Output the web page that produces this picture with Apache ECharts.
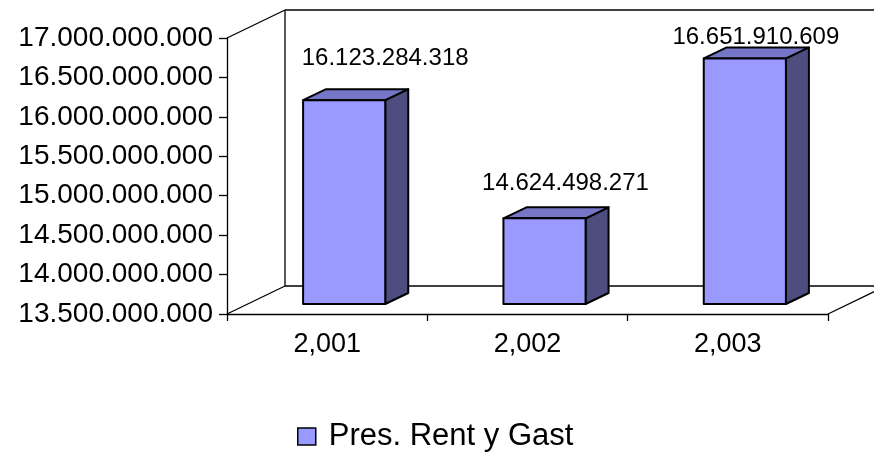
<!DOCTYPE html>
<html>
<head>
<meta charset="utf-8">
<script src="https://cdn.jsdelivr.net/npm/echarts@6/dist/echarts.min.js"></script>
<style>
  html, body { margin: 0; padding: 0; background: #ffffff; }
  #chart { width: 874px; height: 453px; }
</style>
</head>
<body>
<div id="chart"></div>
<script>
// ---- data ----
const categories = ['2,001', '2,002', '2,003'];
const seriesName = 'Pres. Rent y Gast';
const values = [16123284318, 14624498271, 16651910609];
const yMin = 13500000000;
const yMax = 17000000000;
const yStep = 500000000;

// ---- style helpers ----
const FONT = "'Liberation Sans', Arial, sans-serif";
const FRONT = '#9999FF', TOP = '#7676C8', SIDE = '#4D4D80';
const WALL_D = [58, -28];       // depth of walls
const BAR_OFF = 17;             // bar front face shift right
const BAR_D = [23, -11];        // bar depth
const LABEL_DX = [41, 21, 11];  // label shift from bar front centre
const LABEL_GAP = [42, 35, 21]; // label centre above bar front top

function fmt(v) {
  return String(Math.round(v)).replace(/\B(?=(\d{3})+(?!\d))/g, '.');
}

const chart = echarts.init(document.getElementById('chart'), null, { renderer: 'canvas' });

const option = {
  backgroundColor: '#ffffff',
  animation: false,
  grid: { left: 227, right: 46, top: 38, bottom: 139, containLabel: false },
  legend: {
    data: [{ name: seriesName, icon: 'rect' }],
    left: 297,
    top: 421,
    padding: 0,
    itemWidth: 18,
    itemHeight: 17,
    itemStyle: { color: FRONT, borderColor: '#000', borderWidth: 1.5 },
    textStyle: { fontFamily: FONT, fontSize: 31, color: '#000', padding: [0, 0, 0, 8] }
  },
  xAxis: {
    type: 'category',
    data: categories,
    boundaryGap: true,
    axisLine: { show: true, lineStyle: { color: '#000', width: 1.3 } },
    axisTick: { show: true, length: 7, lineStyle: { color: '#000', width: 1.3 } },
    axisLabel: { color: '#000', fontFamily: FONT, fontSize: 27, margin: 17 },
    splitLine: { show: false }
  },
  yAxis: {
    type: 'value',
    min: yMin,
    max: yMax,
    interval: yStep,
    axisLine: { show: true, lineStyle: { color: '#000', width: 1.3 } },
    axisTick: { show: true, length: 8, lineStyle: { color: '#000', width: 1.3 } },
    axisLabel: { color: '#000', fontFamily: FONT, fontSize: 28, margin: 14, formatter: fmt },
    splitLine: { show: false }
  },
  series: [
    {
      type: 'custom',
      name: 'walls',
      silent: true,
      z: 1,
      data: [[0, yMin]],
      renderItem: function (params, api) {
        const band = api.size([1, 0])[0];
        const b0 = api.coord([0, yMin]);
        const b2 = api.coord([categories.length - 1, yMin]);
        const t0 = api.coord([0, yMax]);
        const x0 = b0[0] - band / 2, x1 = b2[0] + band / 2;
        const yb = b0[1], yt = t0[1];
        const dx = WALL_D[0], dy = WALL_D[1];
        const st = { stroke: '#000', lineWidth: 1.3, fill: null };
        const seg = (a, b, c, d) => ({ type: 'line', shape: { x1: a, y1: b, x2: c, y2: d }, style: st });
        return {
          type: 'group',
          children: [
            seg(x0 + dx, yt + dy, x0 + dx, yb + dy),
            seg(x0, yt, x0 + dx, yt + dy),
            seg(x0, yb, x0 + dx, yb + dy),
            seg(x0 + dx, yt + dy, x1 + dx, yt + dy),
            seg(x0 + dx, yb + dy, x1 + dx, yb + dy),
            seg(x1, yb, x1 + dx, yb + dy),
            seg(x1 + dx, yt + dy, x1 + dx, yb + dy)
          ]
        };
      }
    },
    {
      type: 'custom',
      name: seriesName,
      z: 2,
      itemStyle: { color: FRONT, borderColor: '#000', borderWidth: 1.5 },
      data: values.map((v, i) => [i, v]),
      renderItem: function (params, api) {
        const i = api.value(0);
        const v = api.value(1);
        const band = api.size([1, 0])[0];
        const c = api.coord([i, v]);
        const base = api.coord([i, yMin]);
        const w = band * 0.41;
        const fx = c[0] + BAR_OFF - w / 2;
        const top = c[1] - 7;
        const bot = base[1] - 10;
        const dx = BAR_D[0], dy = BAR_D[1];
        const edge = { stroke: '#000', lineWidth: 2, lineJoin: 'round' };
        return {
          type: 'group',
          children: [
            { type: 'polygon', shape: { points: [[fx + w, top], [fx + w + dx, top + dy], [fx + w + dx, bot + dy], [fx + w, bot]] },
              style: Object.assign({ fill: SIDE }, edge) },
            { type: 'polygon', shape: { points: [[fx, top], [fx + dx, top + dy], [fx + w + dx, top + dy], [fx + w, top]] },
              style: Object.assign({ fill: TOP }, edge) },
            { type: 'rect', shape: { x: fx, y: top, width: w, height: bot - top },
              style: Object.assign({ fill: FRONT }, edge) },
            { type: 'text', x: c[0] + BAR_OFF + LABEL_DX[i], y: top - LABEL_GAP[i],
              style: { text: fmt(v), fill: '#000', font: '24px ' + FONT, align: 'center', verticalAlign: 'middle' } }
          ]
        };
      }
    }
  ]
};

chart.setOption(option);
</script>
</body>
</html>
